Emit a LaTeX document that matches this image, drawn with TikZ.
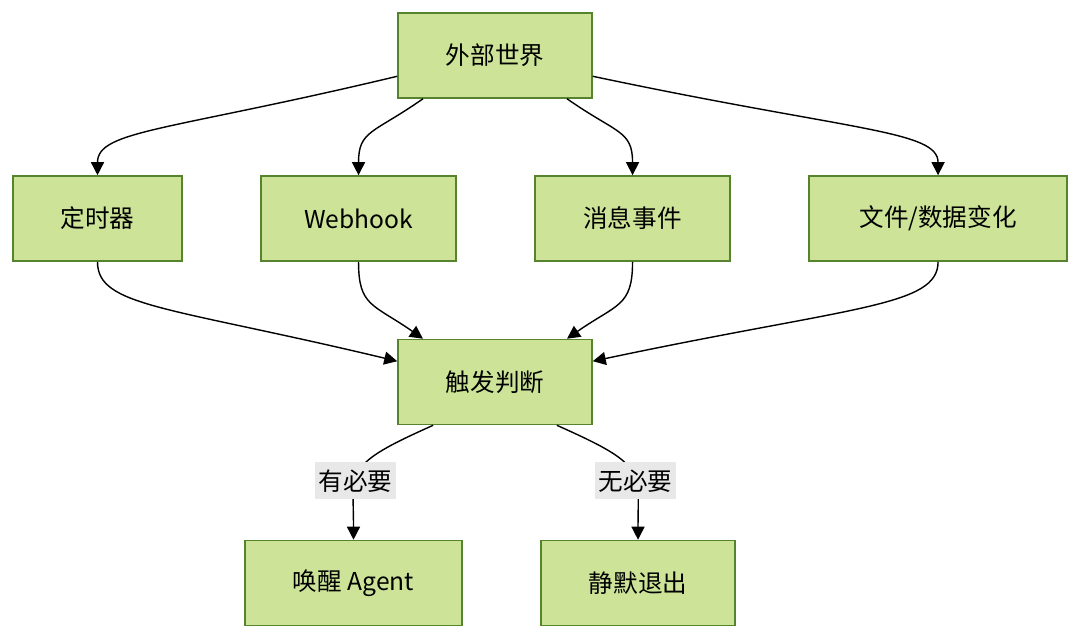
\documentclass[tikz,border=0pt]{standalone}
\usepackage{fontspec}
\setmainfont{Noto Sans CJK SC}
\usepackage{xcolor}
\usetikzlibrary{arrows.meta,positioning}
\definecolor{boxfill}{HTML}{CDE498}
\definecolor{boxline}{HTML}{55832E}
\definecolor{labelbg}{HTML}{E8E8E8}
\tikzset{
  block/.style={draw=boxline, line width=0.9pt, fill=boxfill, minimum width=3.88cm,
                minimum height=1.7cm, align=center, font=\fontsize{14}{17}\selectfont},
  elabel/.style={fill=labelbg, inner xsep=2pt, inner ysep=4pt, font=\fontsize{14}{17}\selectfont},
  arrow/.style={-{Triangle[length=2.6mm,width=2.6mm]}, line width=0.8pt}
}

\begin{document}
\begin{tikzpicture}[x=0.02cm, y=-0.02cm, node distance=1.55cm and 1.55cm]
  \useasboundingbox (0,0) rectangle (1080,639);
  \node[block] (world) at (495,55.5) {外部世界};
  \node[block, minimum width=3.38cm] (timer) at (97.5,218.5) {定时器};
  \node[block, minimum width=3.9cm, right=of timer] (hook) {Webhook};
  \node[block, minimum width=3.9cm, right=of hook] (msg) {消息事件};
  \node[block, minimum width=5.16cm, right=of msg] (file) {文件/数据变化};
  \node[block] (trig) at (495,382) {触发判断};
  \node[block, minimum width=4.34cm] (wake) at (353.5,583) {唤醒 Agent};
  \node[block, right=of wake] (quiet) {静默退出};
  % sources
  \draw[arrow] (world.192) .. controls +(-230,55) and +(0,-45) .. (timer.north);
  \draw[arrow] (world.211) .. controls +(-50,35) and +(0,-45) .. (hook.north);
  \draw[arrow] (world.329) .. controls +(50,35) and +(0,-45) .. (msg.north);
  \draw[arrow] (world.348) .. controls +(260,55) and +(0,-45) .. (file.north);
  % into the check
  \draw[arrow] (timer.south) .. controls +(0,45) and +(-230,-55) .. (trig.168);
  \draw[arrow] (hook.south) .. controls +(0,45) and +(-50,-35) .. (trig.149);
  \draw[arrow] (msg.south) .. controls +(0,45) and +(50,-35) .. (trig.31);
  \draw[arrow] (file.south) .. controls +(0,45) and +(260,-55) .. (trig.12);
  % decision
  \draw[arrow] (trig.215) .. controls +(-90,40) and +(0,-70) .. node[elabel, pos=0.6] (yes) {有必要} (wake.north);
  \draw[arrow] (trig.325) .. controls +(90,40) and +(0,-70) .. node[elabel, pos=0.6] (no) {无必要} (quiet.north);
\end{tikzpicture}
\end{document}
